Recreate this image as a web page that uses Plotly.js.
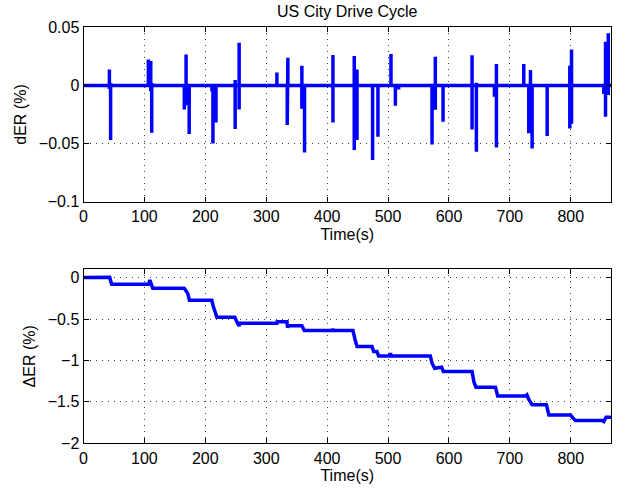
<!DOCTYPE html>
<html>
<head>
<meta charset="utf-8">
<script src="https://cdn.plot.ly/plotly-3.0.1.min.js"></script>
<style>
  html, body { margin: 0; padding: 0; background: #ffffff; }
  #chart { width: 629px; height: 493px; }
</style>
</head>
<body>
<div id="chart"></div>
<script>
// Drive cycle span (s)
const cycleStart = 0;
const cycleEnd = 866;

// dER events: time (s), peak (%) and trough (%) of each burst
const eventTime = [42.5, 44.5, 106.5, 110.4, 112, 165.5, 168.4, 173.5, 210.8, 212.5, 217.5,
  249, 255.5, 317.5, 334.5, 335.5, 358.5, 362.9, 409.5, 444.5, 447, 449, 474.6, 483.4,
  504.8, 512, 517.4, 572.2, 577.6, 590.3, 637.9, 645, 674.6, 677.9, 722.8, 731, 733.8,
  736.5, 761.2, 798.4, 801.2, 854.2, 857, 861.5];
const eventHigh = [0.0138, 0.002, 0.0224, 0.021, 0.002, 0, 0.0267, 0, 0.001, 0.001, 0,
  0.0046, 0.0367, 0.0112, 0, 0.0239, 0.017, 0, 0.0261, 0.0253, 0.005, 0.0138, 0, 0,
  0.027, 0, 0, 0, 0.0247, 0, 0.0259, 0.0024, 0, 0.0184, 0.0184, 0, 0.0132,
  0, 0, 0.017, 0.031, 0, 0.0376, 0.0448];
const eventLow = [-0.003, -0.047, 0, -0.005, -0.0407, -0.0206, -0.017, -0.0418, -0.005, -0.05, -0.0318,
  -0.0375, -0.0206, 0, -0.034, 0, -0.02, -0.0576, -0.0318, -0.0556, -0.045, -0.047, -0.0642, -0.0441,
  0, -0.0174, -0.0034, -0.0507, -0.021, -0.0312, -0.0378, -0.057, -0.0097, -0.0533, 0, -0.0412, -0.03,
  -0.0542, -0.0435, -0.037, -0.033, -0.0074, -0.0269, -0.0083];

// Cumulative ΔER (%) over time (s)
const stepTime = [0, 42.4, 43, 44.5, 46.3, 106.5, 109, 113.7, 165.2, 168.4, 171, 173.9,
  210.6, 212.8, 215, 218.9, 248.4, 250, 252.8, 255.5, 257, 317.5, 318, 334, 335, 336,
  358.5, 362.5, 408.5, 409.5, 410.5, 442.3, 446, 449.1, 473.6, 476.3, 481.8, 484.5,
  503, 504, 505, 569.4, 572, 576.5, 588, 590.7, 637.9, 641, 644.3, 676.3, 680,
  725.6, 728, 731, 736.5, 760, 764, 799.5, 803, 807.7, 851.6, 854.2, 858, 866];
const stepValue = [0, 0, 0.005, -0.04, -0.081, -0.081, -0.029, -0.129, -0.129, -0.16, -0.19, -0.274,
  -0.274, -0.34, -0.40, -0.479, -0.479, -0.51, -0.55, -0.584, -0.552, -0.552, -0.532, -0.532, -0.604, -0.580,
  -0.580, -0.640, -0.640, -0.620, -0.640, -0.640, -0.753, -0.833, -0.833, -0.893, -0.893, -0.945,
  -0.945, -0.913, -0.945, -0.945, -1.03, -1.094, -1.082, -1.134, -1.134, -1.26, -1.323, -1.323, -1.428,
  -1.428, -1.415, -1.47, -1.536, -1.536, -1.657, -1.657, -1.69, -1.726, -1.726, -1.738, -1.685, -1.685];

// Build the dER trace: flat at zero with a vertical excursion at each event
const derT = [cycleStart];
const derV = [0];
for (let i = 0; i < eventTime.length; i++) {
  derT.push(eventTime[i], eventTime[i], eventTime[i], eventTime[i]);
  derV.push(0, eventHigh[i], eventLow[i], 0);
}
derT.push(cycleEnd);
derV.push(0);

const W = 629, H = 493;
const plotLeft = 83.5, plotRight = 611;
const topBox = [27.3, 201.7];
const botBox = [269.3, 443.3];
const xDom = [plotLeft / W, plotRight / W];
const yDomTop = [(H - topBox[1]) / H, (H - topBox[0]) / H];
const yDomBot = [(H - botBox[1]) / H, (H - botBox[0]) / H];

const FONT = 'Liberation Sans, Arial, sans-serif';
const lineStyle = { color: 'rgb(0,0,255)', width: 3.5 };

function axisBase() {
  return {
    showline: true, linecolor: '#000', linewidth: 1, mirror: 'ticks',
    ticks: 'inside', ticklen: 5, tickwidth: 1, tickcolor: '#000',
    showgrid: true, gridcolor: 'rgba(0,0,0,0.75)', gridwidth: 1, griddash: '1px,5px',
    zeroline: false, tickfont: { family: FONT, size: 16, color: '#000' }
  };
}

const traces = [
  { x: derT, y: derV, type: 'scatter', mode: 'lines', line: lineStyle, xaxis: 'x', yaxis: 'y', hoverinfo: 'skip' },
  { x: stepTime, y: stepValue, type: 'scatter', mode: 'lines', line: lineStyle, xaxis: 'x2', yaxis: 'y2', hoverinfo: 'skip' }
];

const layout = {
  width: W, height: H,
  margin: { l: 0, r: 0, t: 0, b: 0 },
  paper_bgcolor: '#fff', plot_bgcolor: '#fff',
  showlegend: false,
  font: { family: FONT, size: 16, color: '#000' },
  title: {
    text: 'US City Drive Cycle',
    font: { family: FONT, size: 16, color: '#000' },
    x: (plotLeft + plotRight) / 2 / W, xanchor: 'center', xref: 'paper',
    y: 1 - 11 / H, yanchor: 'middle', yref: 'paper'
  },
  xaxis: Object.assign(axisBase(), {
    domain: xDom, range: [cycleStart, cycleEnd], dtick: 100, tick0: 0, anchor: 'y',
    title: { text: 'Time(s)', font: { family: FONT, size: 16 }, standoff: 4 }
  }),
  yaxis: Object.assign(axisBase(), {
    domain: yDomTop, range: [-0.1, 0.05], dtick: 0.05, tick0: 0, anchor: 'x',
    title: { text: 'dER (%)', font: { family: FONT, size: 16 }, standoff: 8 }
  }),
  xaxis2: Object.assign(axisBase(), {
    domain: xDom, range: [cycleStart, cycleEnd], dtick: 100, tick0: 0, anchor: 'y2',
    title: { text: 'Time(s)', font: { family: FONT, size: 16 }, standoff: 4 }
  }),
  yaxis2: Object.assign(axisBase(), {
    domain: yDomBot, range: [-2, 0.1], dtick: 0.5, tick0: 0, anchor: 'x2',
    title: { text: 'ΔER (%)', font: { family: FONT, size: 16 }, standoff: 8 }
  })
};

Plotly.newPlot('chart', traces, layout, { staticPlot: true, displayModeBar: false });
</script>
</body>
</html>
